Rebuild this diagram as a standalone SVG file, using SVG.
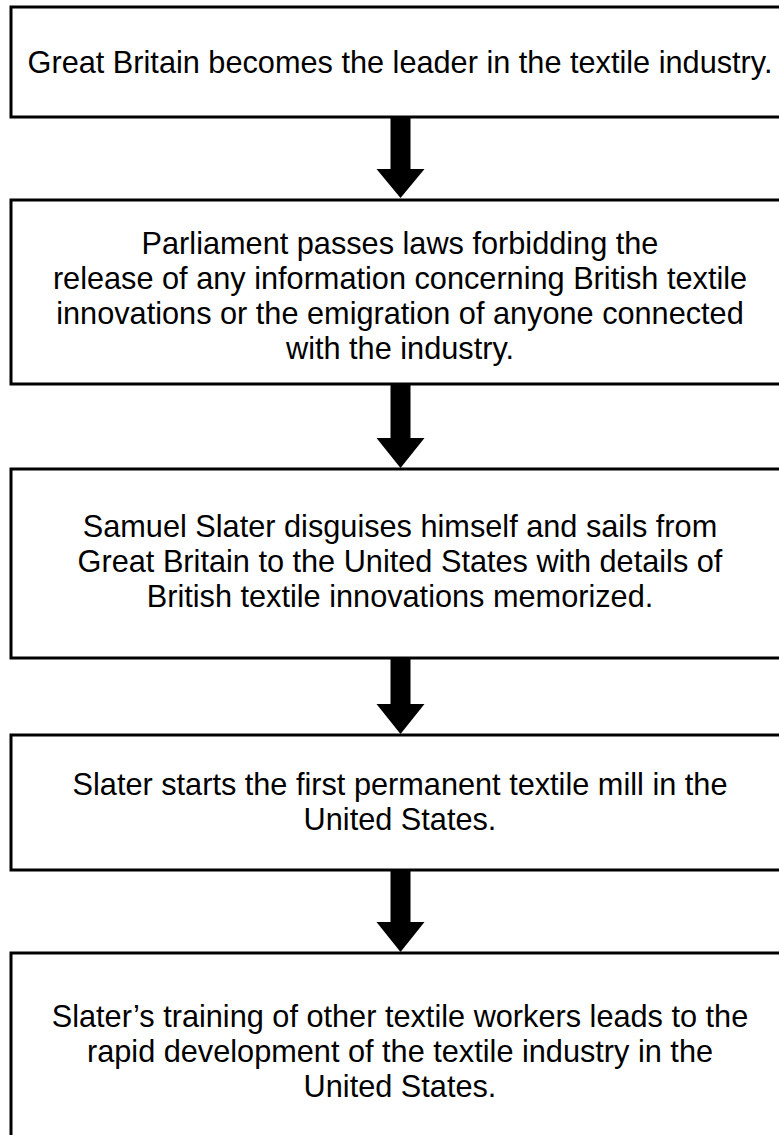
<svg xmlns="http://www.w3.org/2000/svg" width="779" height="1135" viewBox="0 0 779 1135">
<style>
.box{fill:#fff;stroke:#000;stroke-width:3}
.t{font-family:"Liberation Sans",Arial,Helvetica,sans-serif;font-size:30.7px;fill:#000;text-anchor:middle}
.arr{fill:#000;stroke:none}
</style>
<rect x="0" y="0" width="779" height="1135" fill="#fff"/>
<g id="node1">
<rect class="box" x="11" y="7" width="790" height="110"/>
<text class="t" x="400" y="73">Great Britain becomes the leader in the textile industry.</text>
</g>
<g id="node2">
<rect class="box" x="11" y="200" width="790" height="184"/>
<text class="t" x="400" y="254">Parliament passes laws forbidding the</text>
<text class="t" x="400" y="289">release of any information concerning British textile</text>
<text class="t" x="400" y="324">innovations or the emigration of anyone connected</text>
<text class="t" x="400" y="359">with the industry.</text>
</g>
<g id="node3">
<rect class="box" x="11" y="469" width="790" height="189"/>
<text class="t" x="400" y="537">Samuel Slater disguises himself and sails from</text>
<text class="t" x="400" y="572">Great Britain to the United States with details of</text>
<text class="t" x="400" y="607">British textile innovations memorized.</text>
</g>
<g id="node4">
<rect class="box" x="11" y="735" width="790" height="135"/>
<text class="t" x="400" y="795">Slater starts the first permanent textile mill in the</text>
<text class="t" x="400" y="830">United States.</text>
</g>
<g id="node5">
<rect class="box" x="11" y="953" width="790" height="200"/>
<text class="t" x="400" y="1027">Slater’s training of other textile workers leads to the</text>
<text class="t" x="400" y="1062">rapid development of the textile industry in the</text>
<text class="t" x="400" y="1097">United States.</text>
</g>
<g id="connectors">
<path class="arr" d="M390.5,117 H410.5 V169 H424.5 L400.5,198 L376.5,169 H390.5 Z"/>
<path class="arr" d="M390.5,384 H410.5 V438 H424.5 L400.5,468 L376.5,438 H390.5 Z"/>
<path class="arr" d="M390.5,658 H410.5 V704 H424.5 L400.5,734 L376.5,704 H390.5 Z"/>
<path class="arr" d="M390.5,870 H410.5 V922 H424.5 L400.5,952 L376.5,922 H390.5 Z"/>
</g>
</svg>
